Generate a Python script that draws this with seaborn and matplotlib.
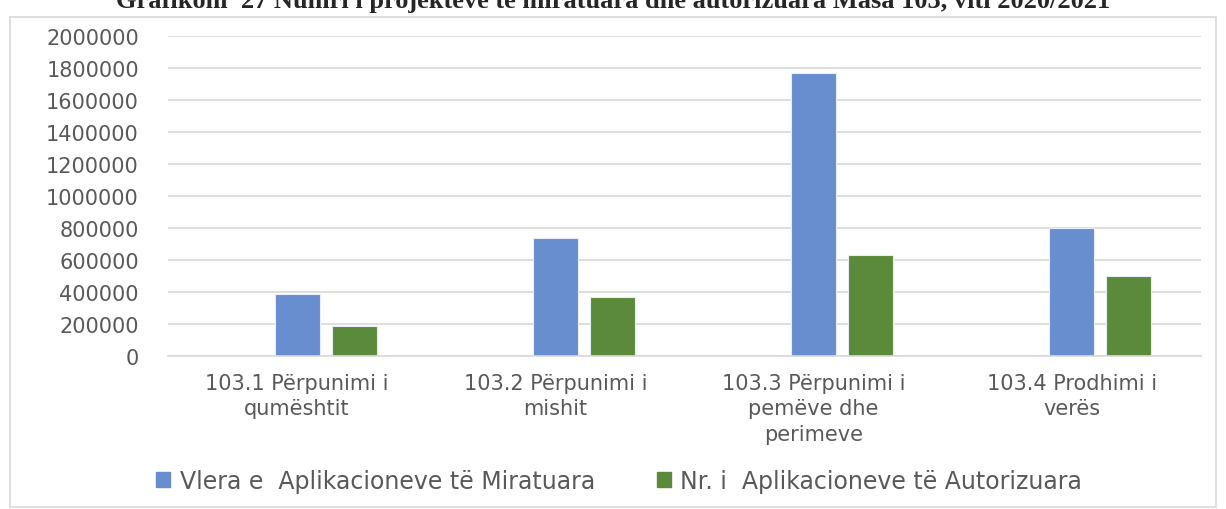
import seaborn as sns
import matplotlib.pyplot as plt
import pandas as pd
from matplotlib.patches import Patch, Rectangle
from matplotlib.ticker import StrMethodFormatter

# te dhenat e lexuara nga grafiku
kategorite = ["103.1 Përpunimi i\nqumështit", "103.2 Përpunimi i\nmishit",
              "103.3 Përpunimi i\npemëve dhe\nperimeve", "103.4 Prodhimi i\nverës"]
vlera_miratuara = [386000, 737000, 1767000, 800000]
nr_autorizuara = [188000, 366000, 629000, 500000]

seria_1 = "Vlera e  Aplikacioneve të Miratuara"
seria_2 = "Nr. i  Aplikacioneve të Autorizuara"
seria_bosh = "_bosh"  # seri pa vlera, vetem ze vend ne grup (si ne Excel)

titulli = "Grafikoni  27 Numri i projekteve të miratuara dhe autorizuara Masa 103, viti 2020/2021"

df = pd.DataFrame({"kategoria": kategorite, seria_1: vlera_miratuara, seria_2: nr_autorizuara})
df = df.melt(id_vars="kategoria", var_name="seria", value_name="vlera")

ngjyrat = {seria_bosh: "#ffffff", seria_1: "#698ED0", seria_2: "#5B8A3A"}
gri = "#595959"

sns.set_style("white")
plt.rcParams['font.family'] = ['DejaVu Sans']

fig = plt.figure(figsize=(12.26, 5.10), dpi=100)
ax = fig.add_axes([168 / 1226, 1 - 357 / 510, (1201 - 168) / 1226, (357 - 37) / 510])

sns.barplot(data=df, x="kategoria", y="vlera", hue="seria",
            hue_order=[seria_bosh, seria_1, seria_2], order=kategorite,
            palette=ngjyrat, saturation=1, width=0.663, gap=0.21, edgecolor="#e8eef8",
            linewidth=0.8, ax=ax, legend=False)

ax.set_ylim(0, 2000000)
ax.set_yticks(range(0, 2000001, 200000))
ax.yaxis.set_major_formatter(StrMethodFormatter("{x:.0f}"))
ax.set_xticks(range(len(kategorite)))
ax.set_xticklabels(kategorite, multialignment="center", linespacing=1.35)
ax.yaxis.grid(True, color="#d9d9d9", linewidth=1.2)
ax.set_axisbelow(True)
for s in ["top", "right", "left"]:
    ax.spines[s].set_visible(False)
ax.spines["bottom"].set_color("#d9d9d9")
ax.spines["bottom"].set_linewidth(1.2)
ax.tick_params(axis="both", length=0, colors=gri)
ax.tick_params(axis="y", pad=21, labelsize=15)
ax.tick_params(axis="x", pad=12, labelsize=15)
ax.set_xlabel("")
ax.set_ylabel("")

handles = [Patch(color=ngjyrat[seria_1], label=seria_1),
           Patch(color=ngjyrat[seria_2], label=seria_2)]
fig.legend(handles=handles, loc="center", bbox_to_anchor=(0.505, 1 - 482 / 510), ncol=2,
           frameon=False, fontsize=17, labelcolor=gri, handlelength=0.6, handleheight=0.6,
           handletextpad=0.4, columnspacing=2.6)

# korniza e grafikut
fig.patches.append(Rectangle((10 / 1226, 2 / 510), (1216 - 10) / 1226, (492 - 2) / 510,
                             transform=fig.transFigure, fill=False,
                             edgecolor="#d9d9d9", linewidth=1.2))

fig.text(0.5, 1 - 8 / 510, titulli, ha="center", va="baseline", fontsize=19,
         fontweight="bold", family="Liberation Serif")

fig.savefig("out.png", dpi=100)
